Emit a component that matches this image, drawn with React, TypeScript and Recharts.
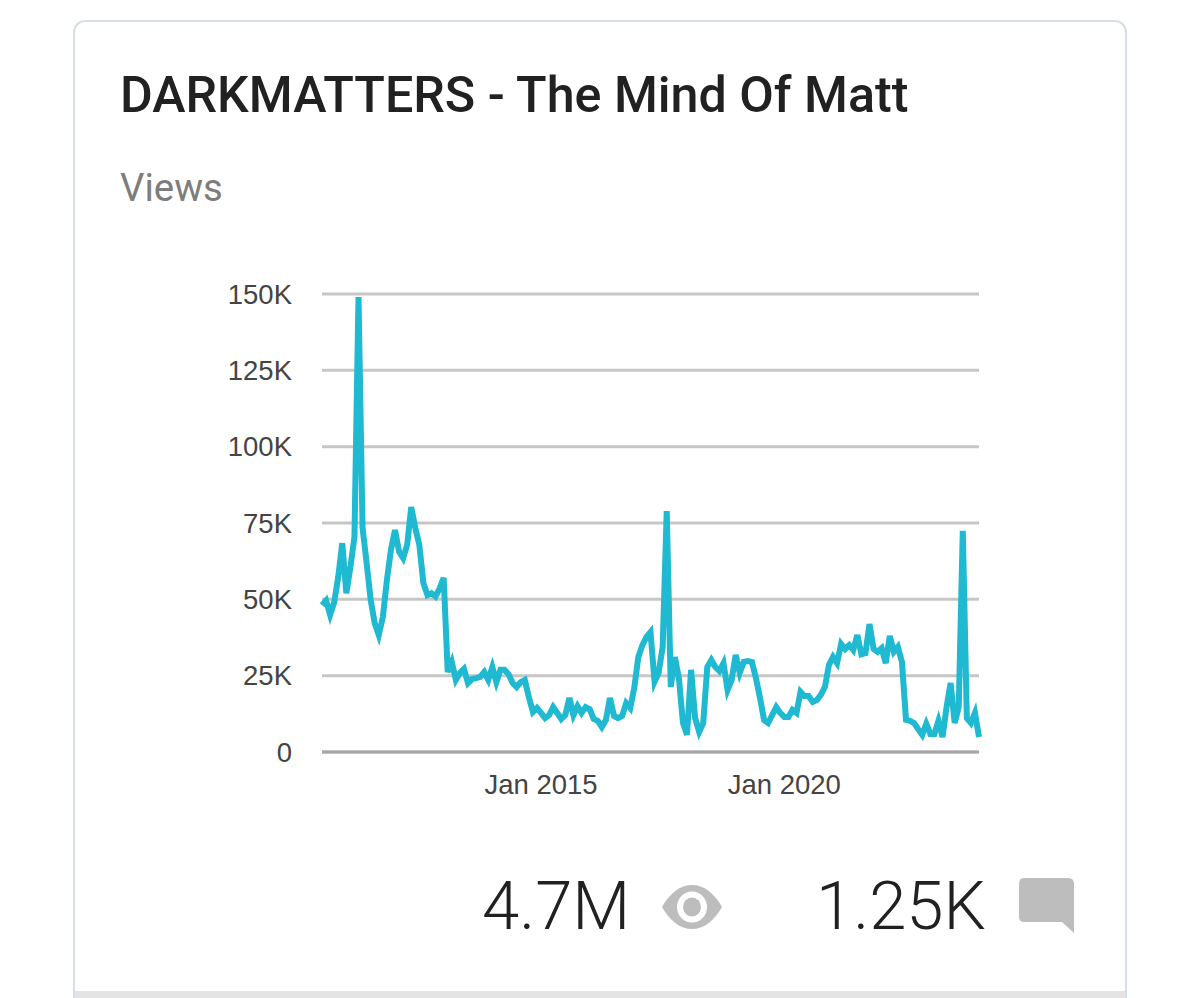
import React from 'react'
import { LineChart, Line, XAxis, YAxis, CartesianGrid } from 'recharts'

// monthly views in thousands, Jul 2010 onwards
const views = [
  48.1, 49.6, 44.9, 49, 57.3, 68.4, 52, 60.6, 70.4, 149, 73.4, 61.9, 49.8, 42.2, 38.3, 44.2,
  56.3, 66.2, 72.7, 65.6, 63.5, 67.8, 80.2, 73.4, 67.8, 55.3, 51.4, 52, 50.9, 53.6, 57, 26.2,
  29.5, 23.6, 25.9, 27.2, 22.6, 23.9, 24.2, 24.6, 26.2, 23.6, 27.8, 22.9, 26.9, 26.9, 25.5, 22.6,
  21.3, 22.9, 23.6, 18, 13.1, 14.4, 12.8, 11.1, 12.1, 14.7, 12.8, 10.8, 12.1, 17.7, 12.1, 15,
  12.8, 14.7, 14, 10.8, 10.2, 8.2, 10.5, 17.7, 11.8, 11.1, 11.8, 16, 14.4, 21, 31.1, 35,
  37.7, 39.3, 23, 25.9, 34.4, 78.9, 21.3, 31.1, 24.2, 9.5, 5.6, 26.9, 11.1, 6.6, 9.5, 27.8,
  30.1, 27.8, 26.5, 29.1, 20.3, 23.6, 31.8, 25.9, 29.5, 29.8, 29.5, 24.2, 17.7, 10.5, 9.5, 12.1,
  14.7, 12.8, 11.5, 11.5, 13.8, 12.8, 19.7, 18.3, 18.3, 16.4, 17, 18.7, 21.3, 28.5, 31.1, 29.1,
  35.4, 33.7, 35, 33.4, 38.3, 32, 32.4, 41.9, 33.7, 32.8, 34, 29.1, 38, 32.8, 34.4, 29.5,
  10.5, 10.2, 9.5, 7.5, 5.6, 9.2, 5.9, 5.9, 10.2, 4.9, 14.7, 22.6, 9.5, 14.7, 72.4, 11.1,
  9.5, 12.8, 4.9,
]
const monthNames = ['Jan', 'Feb', 'Mar', 'Apr', 'May', 'Jun', 'Jul', 'Aug', 'Sep', 'Oct', 'Nov', 'Dec']
const xTicks = ['Jan 2015', 'Jan 2020']
const yTicks = [0, 25, 50, 75, 100, 125, 150]

const chartData = views.map((v, i) => {
  const m = 6 + i
  return { month: `${monthNames[m % 12]} ${2010 + Math.floor(m / 12)}`, views: v }
})

const axisFont = { fontFamily: '"Liberation Sans", Arial, sans-serif', fontSize: 27.5, fill: '#444444' }

export default function App() {
  return (
    <div style={{ position: 'absolute', left: 0, top: 0, width: 1200, height: 998, background: '#fff', overflow: 'hidden', fontFamily: 'Roboto, sans-serif' }}>
      {/* card */}
      <div style={{ position: 'absolute', left: 73, top: 20, width: 1050, height: 1000, border: '2.5px solid #d6dfe5', borderRadius: 12 }} />
      <div style={{ position: 'absolute', left: 75, top: 991, width: 1050, height: 7, background: '#e4e4e4' }} />

      <div style={{ position: 'absolute', left: 120, top: 65, fontSize: 50.2, fontWeight: 500, color: '#212121', whiteSpace: 'nowrap', lineHeight: '60px' }}>
        DARKMATTERS - The Mind Of Matt
      </div>
      <div style={{ position: 'absolute', left: 120, top: 166, fontSize: 38.4, color: '#7d7d7d', lineHeight: '44px' }}>Views</div>

      <div style={{ position: 'absolute', left: 0, top: 0 }}>
        <LineChart width={1200} height={998} data={chartData} margin={{ top: 294, right: 221, bottom: 196, left: 222 }}>
          <CartesianGrid horizontal vertical={false} stroke="#c6c6c6" strokeWidth={3} />
          <XAxis
            dataKey="month"
            ticks={xTicks}
            interval={0}
            height={50}
            tickLine={false}
            axisLine={{ stroke: '#a6a6a6', strokeWidth: 3 }}
            tick={axisFont}
            tickMargin={16}
          />
          <YAxis
            width={100}
            domain={[0, 150]}
            ticks={yTicks}
            interval={0}
            tickLine={false}
            axisLine={false}
            tick={axisFont}
            tickMargin={24}
            tickFormatter={(v: number) => (v === 0 ? '0' : `${v}K`)}
          />
          <Line type="linear" dataKey="views" stroke="#1fb9d1" strokeWidth={6} dot={false} isAnimationActive={false} />
        </LineChart>
      </div>

      {/* totals */}
      <div style={{ position: 'absolute', left: 482, top: 867, fontSize: 67, fontWeight: 300, color: '#212121', lineHeight: '78px' }}>4.7M</div>
      <svg style={{ position: 'absolute', left: 660, top: 884 }} width={64} height={46} viewBox="0 0 64 46">
        <path d="M2 23 C10 9 20 1 32 1 C44 1 54 9 62 23 C54 37 44 45 32 45 C20 45 10 37 2 23 Z" fill="#bdbdbd" />
        <ellipse cx="32" cy="23" rx="15" ry="15.5" fill="#fff" />
        <ellipse cx="32" cy="23" rx="9" ry="9.5" fill="#bdbdbd" />
      </svg>
      <div style={{ position: 'absolute', left: 816, top: 867, fontSize: 67, fontWeight: 300, color: '#212121', lineHeight: '78px' }}>1.25K</div>
      <svg style={{ position: 'absolute', left: 1018, top: 877 }} width={58} height={58} viewBox="0 0 58 58">
        <path d="M6 1 H50 Q56 1 56 7 V56 L44 45 H6 Q1 45 1 40 V7 Q1 1 6 1 Z" fill="#bdbdbd" />
      </svg>
    </div>
  )
}
